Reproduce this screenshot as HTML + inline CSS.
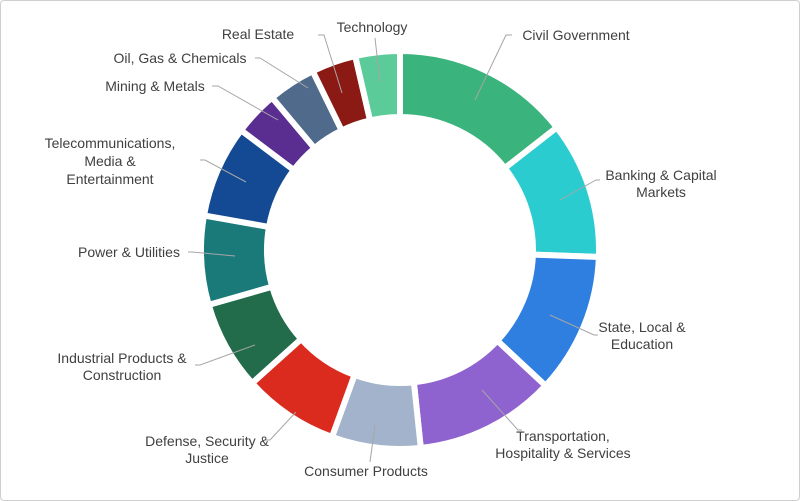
<!DOCTYPE html>
<html><head><meta charset="utf-8"><style>
html,body{margin:0;padding:0;background:#fff}
#c{width:798px;height:499px;border:1px solid #cfcfcf;border-radius:4px;position:relative}
svg text{font-family:"Liberation Sans",Arial,sans-serif;font-size:14px;fill:#404040}
</style></head><body><div id="c">
<svg id="s" width="800" height="501" viewBox="0 0 800 501" style="position:absolute;left:-1px;top:-1px">
<g id="segs"></g>
<g fill="none" stroke="#a6a6a6" stroke-width="1">
<polyline points="475,100 506,35 512,35"/>
<polyline points="560,200 596,180 600,180"/>
<polyline points="550,315 594,335 598,335"/>
<polyline points="482,390 518,430 522,430"/>
<polyline points="375,425 370,462"/>
<polyline points="296,412 270,440 265,440"/>
<polyline points="255,345 200,365 195,365"/>
<polyline points="235,256 192,252 188,252"/>
<polyline points="246,182 205,160 200,160"/>
<polyline points="278,120 218,86 212,86"/>
<polyline points="308,88 260,58 255,58"/>
<polyline points="342,93 324,35 318,35"/>
<polyline points="380,82 375,38"/>
</g>
<g text-anchor="middle">
<text x="576" y="40">Civil Government</text>
<text x="661" y="180">Banking &amp; Capital</text><text x="661" y="197">Markets</text>
<text x="642" y="332">State, Local &amp;</text><text x="642" y="349">Education</text>
<text x="563" y="441">Transportation,</text><text x="563" y="458">Hospitality &amp; Services</text>
<text x="366" y="476">Consumer Products</text>
<text x="207" y="446">Defense, Security &amp;</text><text x="207" y="463">Justice</text>
<text x="122" y="363">Industrial Products &amp;</text><text x="122" y="380">Construction</text>
<text x="129" y="257">Power &amp; Utilities</text>
<text x="110" y="148">Telecommunications,</text><text x="110" y="166">Media &amp;</text><text x="110" y="184">Entertainment</text>
<text x="155" y="91">Mining &amp; Metals</text>
<text x="180" y="63">Oil, Gas &amp; Chemicals</text>
<text x="258" y="39">Real Estate</text>
<text x="372" y="32">Technology</text>
</g>
</svg></div>
<script>
var cx=400,cy=250,R=199,r=133;
var b=[0,52,92,133,174,200,228,254,280,307,320,334,347,360];
var col=["#3BB37C","#2ACCD0","#2E7FE0","#8E62CF","#A3B3CC","#DB2B1E","#226B4B","#1A7A7A","#144A94","#5A2D91","#4F6A8A","#8B1A14","#5CCB9A"];
function p(a,rr){a=a*Math.PI/180;return (cx+rr*Math.sin(a)).toFixed(2)+","+(cy-rr*Math.cos(a)).toFixed(2);}
var h="";
for(var i=0;i<13;i++){var a0=b[i],a1=b[i+1],l=(a1-a0)>180?1:0;
h+='<path d="M'+p(a0,R)+' A'+R+','+R+' 0 '+l+' 1 '+p(a1,R)+' L'+p(a1,r)+' A'+r+','+r+' 0 '+l+' 0 '+p(a0,r)+' Z" fill="'+col[i]+'" stroke="#fff" stroke-width="6" stroke-linejoin="miter"/>';}
document.getElementById("segs").innerHTML=h;
</script>
</body></html>
